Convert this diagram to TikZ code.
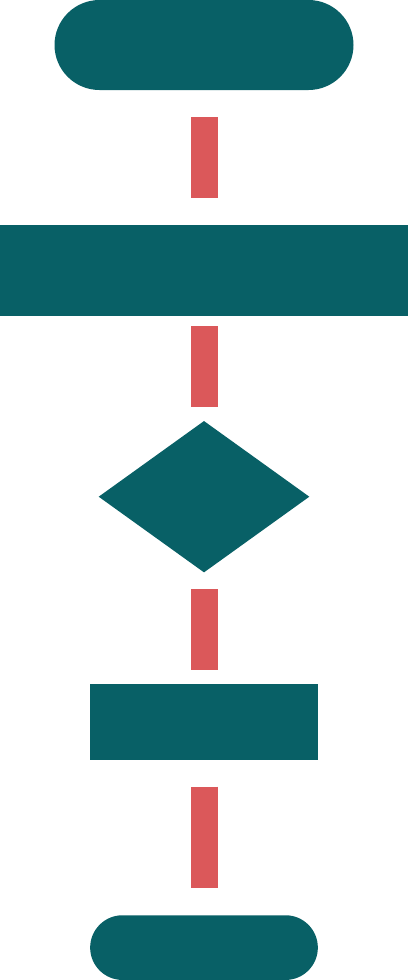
\documentclass[tikz,border=0pt]{standalone}
\usetikzlibrary{shapes.geometric,shapes.misc}

\definecolor{flowteal}{RGB}{8,96,102}
\definecolor{flowred}{RGB}{219,88,90}

\begin{document}
\begin{tikzpicture}[x=1pt,y=-1pt,
		block/.style={fill=flowteal,draw=none,inner sep=0pt,outer sep=0pt},
		link/.style={draw=flowred,line width=27pt}]
		
		% Frame
		\useasboundingbox (0,0) rectangle (408,980);
		
		% Blocks
		\node[block,rounded rectangle,minimum width=299pt,minimum height=90pt] (start) at (204,45) {};
		\node[block,rectangle,minimum width=408pt,minimum height=90.7pt] (proc) at (204,270.7) {};
		\node[block,diamond,minimum width=210.6pt,minimum height=151.3pt] (dec) at (204,496.7) {};
		\node[block,rectangle,minimum width=228.6pt,minimum height=75.7pt] (io) at (204,722) {};
		\node[block,rounded rectangle,minimum width=227.7pt,minimum height=64.7pt] (stop) at (204,947.6) {};
		
		% Links
		\draw[link,shorten <=27.3pt,shorten >=27pt] (start) -- (proc);
		\draw[link,shorten <=10pt,shorten >=13.7pt] (proc) -- (dec);
		\draw[link,shorten <=17pt,shorten >=14.3pt] (dec) -- (io);
		\draw[link,shorten <=26.8pt,shorten >=27pt] (io) -- (stop);
		
	\end{tikzpicture}
\end{document}
